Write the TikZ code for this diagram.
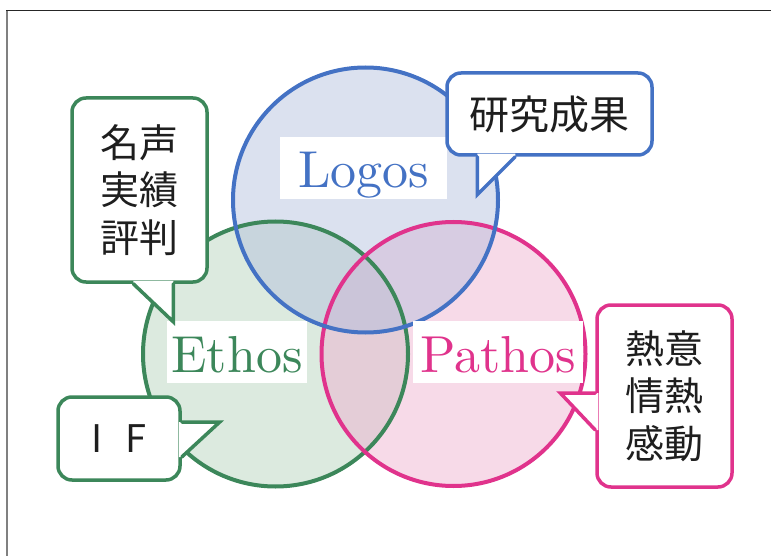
\documentclass[tikz,border=0pt]{standalone}
\usepackage{fontspec}
\newfontfamily\jp{Noto Sans CJK JP}
\newfontfamily\lmten{lmroman10-regular.otf}
\usetikzlibrary{calc}
\definecolor{lblue}{RGB}{68,114,196}
\definecolor{lgreen}{RGB}{60,135,90}
\definecolor{lpink}{RGB}{224,51,140}
\definecolor{fblue}{RGB}{175,188,220}
\definecolor{fgreen}{RGB}{178,208,185}
\definecolor{fpink}{RGB}{238,172,205}
\definecolor{ink}{RGB}{30,30,30}
\begin{document}
\begin{tikzpicture}[x=1pt,y=-1pt,
  ring/.style={line width=4pt},
  tag/.style={fill=white, inner xsep=0pt, inner ysep=0pt, text height=51pt, text depth=11pt, font=\lmten\fontsize{52}{60}\selectfont},
  callbox/.style={draw, fill=white, rounded corners=14pt, line width=3.5pt, inner sep=0pt, align=center, text=ink},
  jpthree/.style={font=\jp\fontsize{39}{47.5}\selectfont},
  tailline/.style={line width=3.5pt, line cap=round, line join=miter}
]
\useasboundingbox (0,0) rectangle (771,556);
% frame
\draw[gray, line width=2pt] (7,556) -- (7,11);
\draw[black!85, line width=1pt] (6,11) -- (771,11);

% circles
\coordinate (cL) at (365.5,200);
\coordinate (cE) at (275.5,354);
\coordinate (cP) at (453.5,354);
\fill[fgreen, fill opacity=0.45] (cE) circle (132.5);
\fill[fpink, fill opacity=0.45] (cP) circle (132);
\fill[fblue, fill opacity=0.45] (cL) circle (132.5);
\draw[ring, lgreen] (cE) circle (132.5);
\draw[ring, lpink] (cP) circle (132);
\draw[ring, lblue] (cL) circle (132.5);

% labels
\node[tag, minimum width=167pt, text=lblue] (logos) at (363.5,168) {Logos};
\node[tag, minimum width=140pt, text=lgreen] (ethos) at (237,352) {Ethos};
\node[tag, minimum width=170pt, text=lpink] (pathos) at (498,352) {Pathos};

% callout: fame
\node[callbox, draw=lgreen, jpthree, minimum width=135pt, minimum height=184pt] (fame) at (139.5,190) {名声\\実績\\評判};
\coordinate (f1) at ($(fame.south west)+(63,0)$);
\coordinate (ft) at ($(fame.south west)+(103,38)$);
\coordinate (f2) at ($(fame.south west)+(103,0)$);
\fill[white] ($(f1)+(0,-3)$) -- (f1) -- (ft) -- (f2) -- ($(f2)+(0,-3)$) -- cycle;
\draw[tailline, lgreen] (f1) -- (ft) -- (f2);

% callout: research
\node[callbox, draw=lblue, font=\jp\fontsize{40}{48}\selectfont, minimum width=205pt, minimum height=82pt] (res) at (549.5,114) {研究成果};
\coordinate (r1) at ($(res.south west)+(32,0)$);
\coordinate (rt) at ($(res.south west)+(32,38)$);
\coordinate (r2) at ($(res.south west)+(70,0)$);
\fill[white] ($(r1)+(0,-3)$) -- (r1) -- (rt) -- (r2) -- ($(r2)+(0,-3)$) -- cycle;
\draw[tailline, lblue] (r1) -- (rt) -- (r2);

% callout: passion
\node[callbox, draw=lpink, jpthree, minimum width=135pt, minimum height=182pt] (pas) at (664.5,396) {熱意\\情熱\\感動};
\coordinate (p1) at ($(pas.west)+(0,-3)$);
\coordinate (pt) at ($(pas.west)+(-35,-3)$);
\coordinate (p2) at ($(pas.west)+(0,34)$);
\fill[white] ($(p1)+(3,0)$) -- (p1) -- (pt) -- (p2) -- ($(p2)+(3,0)$) -- cycle;
\draw[tailline, lpink] (p1) -- (pt) -- (p2);

% callout: IF
\node[callbox, draw=lgreen, font=\jp\fontsize{38}{46}\selectfont, minimum width=122pt, minimum height=83pt] (if) at (119,438.5) {I\hspace{22pt}F};
\coordinate (i1) at ($(if.east)+(0,-16.5)$);
\coordinate (it) at ($(if.east)+(38,-16.5)$);
\coordinate (i2) at ($(if.east)+(0,18.5)$);
\fill[white] ($(i1)+(-3,0)$) -- (i1) -- (it) -- (i2) -- ($(i2)+(-3,0)$) -- cycle;
\draw[tailline, lgreen] (i1) -- (it) -- (i2);
\end{tikzpicture}
\end{document}
